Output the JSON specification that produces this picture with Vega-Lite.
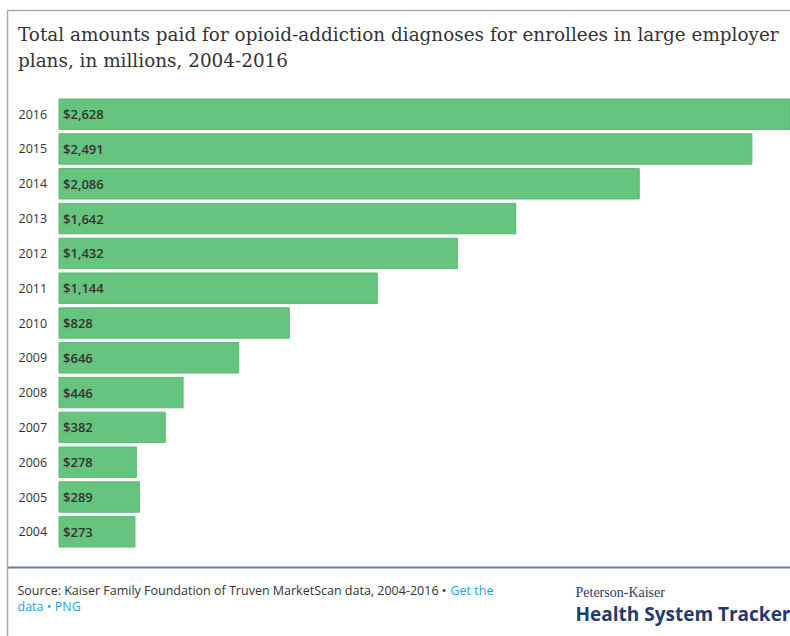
{
  "$schema": "https://vega.github.io/schema/vega-lite/v6.json",
  "width": 783,
  "height": 626,
  "autosize": {"type": "none"},
  "padding": {"left": 7, "top": 10, "right": 0, "bottom": 0},
  "background": "#ffffff",
  "config": {"view": {"stroke": null}, "axis": {"grid": false}},
  "title": {
    "text": ["Total amounts paid for opioid-addiction diagnoses for enrollees in large employer", "plans, in millions, 2004-2016"],
    "orient": "top",
    "anchor": "start",
    "frame": "group",
    "offset": -60,
    "dx": 11,
    "font": "DejaVu Serif",
    "fontSize": 18.4,
    "fontWeight": "normal",
    "color": "#333333",
    "lineHeight": 26,
    "limit": 1000
  },
  "data": {
    "values": [
      {"year": 2016, "amount": 2628},
      {"year": 2015, "amount": 2491},
      {"year": 2014, "amount": 2086},
      {"year": 2013, "amount": 1642},
      {"year": 2012, "amount": 1432},
      {"year": 2011, "amount": 1144},
      {"year": 2010, "amount": 828},
      {"year": 2009, "amount": 646},
      {"year": 2008, "amount": 446},
      {"year": 2007, "amount": 382},
      {"year": 2006, "amount": 278},
      {"year": 2005, "amount": 289},
      {"year": 2004, "amount": 273}
    ]
  },
  "layer": [
    {
      "mark": {"type": "bar", "orient": "horizontal", "height": 30.4, "fill": "#66c47e", "stroke": "#5ab872", "strokeWidth": 1},
      "encoding": {
        "x": {
          "field": "amount",
          "type": "quantitative",
          "scale": {"domain": [-187, 2628], "nice": false, "zero": false},
          "axis": {
            "orient": "top",
            "domain": true,
            "domainColor": "#ababab",
            "domainWidth": 1.5,
            "ticks": false,
            "labels": false,
            "title": "Source: Kaiser Family Foundation of Truven MarketScan data, 2004-2016 •",
            "titleX": 10,
            "titleY": 584.3,
            "titleAlign": "left",
            "titleAnchor": "start",
            "titleBaseline": "alphabetic",
            "titleFont": "Open Sans",
            "titleFontSize": 12.5,
            "titleFontWeight": "normal",
            "titleColor": "#333333",
            "titleLimit": 1000
          }
        },
        "x2": {"datum": 0},
        "y": {
          "field": "year",
          "type": "quantitative",
          "scale": {"domain": [2001.15, 2018.85], "nice": false, "zero": false},
          "axis": {
            "orient": "left",
            "values": [2004, 2005, 2006, 2007, 2008, 2009, 2010, 2011, 2012, 2013, 2014, 2015, 2016],
            "format": "d",
            "domain": true,
            "domainColor": "#ababab",
            "domainWidth": 1.5,
            "ticks": false,
            "tickSize": 0,
            "labelAlign": "left",
            "labelBaseline": "middle",
            "labelPadding": -11,
            "labelFont": "Open Sans",
            "labelFontSize": 12.5,
            "labelColor": "#333333",
            "labelOverlap": false,
            "labelFlush": false,
            "title": "Health System Tracker",
            "titleAngle": 0,
            "titleX": 568,
            "titleY": 610.3,
            "titleAlign": "left",
            "titleBaseline": "alphabetic",
            "titleFont": "Open Sans",
            "titleFontSize": 19,
            "titleFontWeight": "bold",
            "titleColor": "#1f3a6e",
            "titleLimit": 1000
          }
        }
      }
    },
    {
      "mark": {"type": "text", "align": "left", "baseline": "middle", "dx": 4, "dy": 1, "font": "Open Sans", "fontSize": 13, "fontWeight": 600, "fill": "#333333"},
      "encoding": {
        "x": {
          "datum": 0,
          "type": "quantitative",
          "axis": {
            "orient": "bottom",
            "offset": -69,
            "domain": true,
            "domainColor": "#6b7f9f",
            "domainWidth": 2,
            "ticks": false,
            "tickSize": 0,
            "values": [-151],
            "labelExpr": "'data • PNG'",
            "labelAlign": "left",
            "labelBaseline": "alphabetic",
            "labelPadding": 43.7,
            "labelFont": "Open Sans",
            "labelFontSize": 12.5,
            "labelColor": "#2a9fd8",
            "labelFlush": false,
            "labelOverlap": false,
            "labelBound": false,
            "title": "Get the",
            "titleX": 443,
            "titleY": 27.3,
            "titleAlign": "left",
            "titleAnchor": "start",
            "titleBaseline": "alphabetic",
            "titleFont": "Open Sans",
            "titleFontSize": 12.5,
            "titleFontWeight": "normal",
            "titleColor": "#2a9fd8"
          }
        },
        "y": {
          "field": "year",
          "type": "quantitative",
          "axis": {
            "orient": "right",
            "domain": false,
            "ticks": false,
            "labels": false,
            "title": "Peterson-Kaiser",
            "titleAngle": 0,
            "titleX": -215,
            "titleY": 586,
            "titleAlign": "left",
            "titleBaseline": "alphabetic",
            "titleFont": "Liberation Serif",
            "titleFontSize": 14,
            "titleFontWeight": "normal",
            "titleColor": "#1f3a6e"
          }
        },
        "text": {"field": "amount", "type": "quantitative", "format": "$,.0f"}
      }
    }
  ],
  "resolve": {"axis": {"x": "independent", "y": "independent"}}
}
